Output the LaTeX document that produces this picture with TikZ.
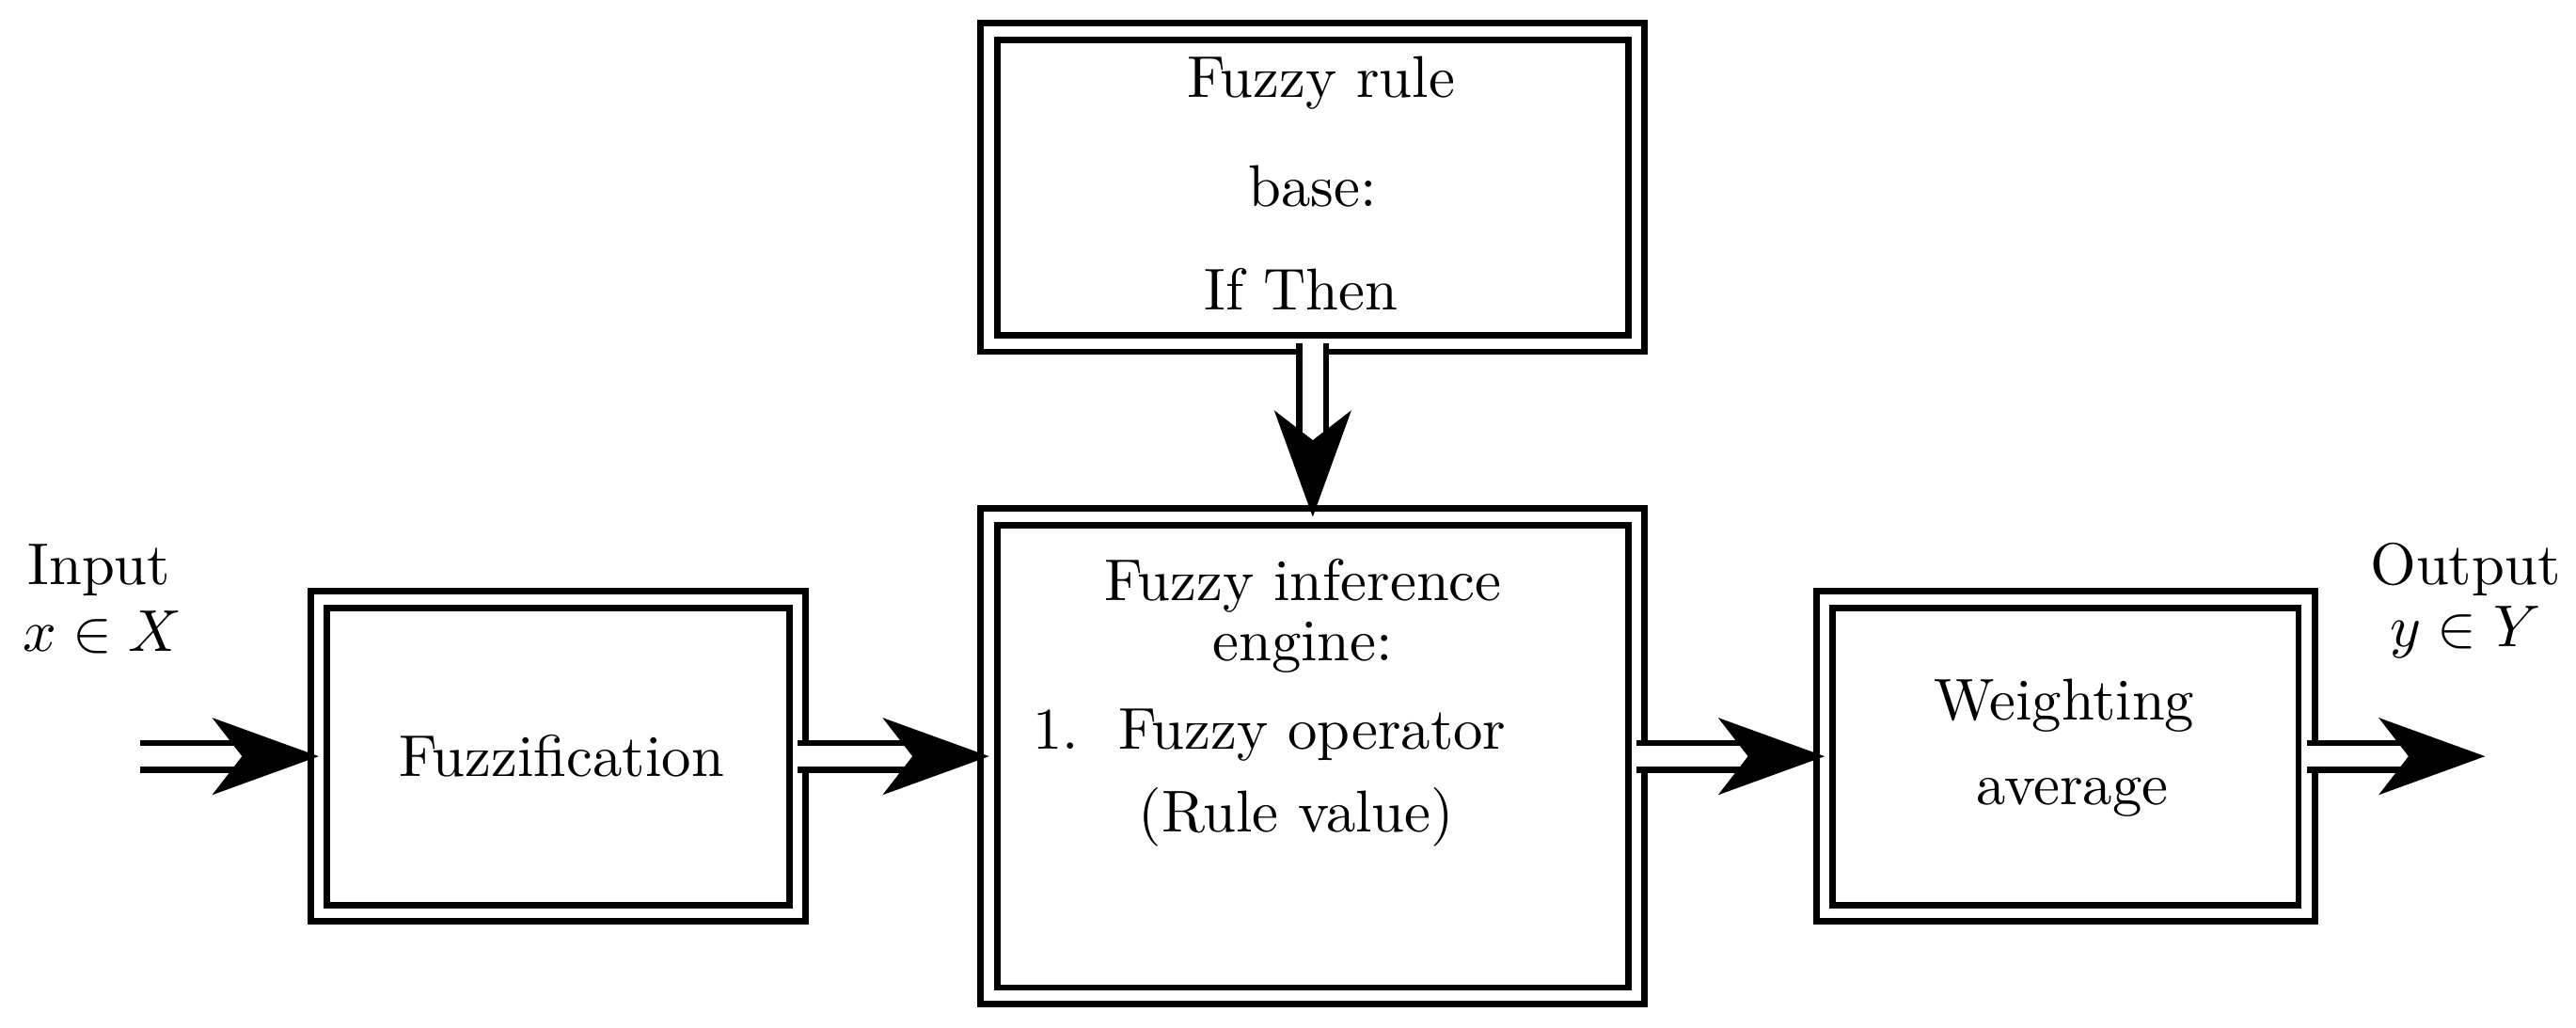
\documentclass[tikz,border=0pt]{standalone}
\usetikzlibrary{arrows.meta}
\begin{document}
\begin{tikzpicture}[x=0.28pt,y=-0.28pt,
  box/.style={draw,double,line width=1.1pt,double distance=1.7pt,inner sep=0pt,outer sep=0pt},
  dar/.style={draw,double,line width=1.1pt,double distance=3.4pt,-{Stealth[length=18pt,width=13pt,inset=5pt]}},
  txt/.style={inner sep=0pt,font=\normalsize}]
\useasboundingbox (0,0) rectangle (1560,622);
\node[box,minimum width=109.76pt,minimum height=52.92pt] (rule) at (795,113.5) {};
\node[box,minimum width=109.76pt,minimum height=81.2pt] (inf) at (795,458) {};
\node[box,minimum width=81.2pt,minimum height=53.2pt] (fuz) at (338,458) {};
\node[box,minimum width=81.76pt,minimum height=53.2pt] (wgt) at (1251,458) {};
\node[txt] (r1) at (800,50) {Fuzzy rule};
\node[txt] (r2) at (795,113) {base:};
\node[txt] (r3) at (788,175) {If Then};
\node[txt] (i1) at (789,355) {Fuzzy inference};
\node[txt] (i2) at (789,392) {engine:};
\node[txt,anchor=west] (i3) at (625,445) {1.\ \ Fuzzy operator};
\node[txt] (i4) at (785,495) {(Rule value)};
\node[txt] (f1) at (340,458) {Fuzzification};
\node[txt] (w1) at (1250,427) {Weighting};
\node[txt] (w2) at (1255,483) {average};
\node[txt] (in1) at (60,345) {Input};
\node[txt] (in2) at (62,383) {$x\in X$};
\node[txt] (o1) at (1493,345) {Output};
\node[txt] (o2) at (1493,383) {$y\in Y$};
\coordinate (start) at (85,458);
\coordinate (end) at (1505,458);
\draw[dar] (start) -- (fuz.west);
\draw[dar] (fuz.east) -- (inf.west);
\draw[dar] (inf.east) -- (wgt.west);
\draw[dar] (wgt.east) -- (end);
\draw[dar] (rule.south) -- (inf.north);
\end{tikzpicture}
\end{document}
